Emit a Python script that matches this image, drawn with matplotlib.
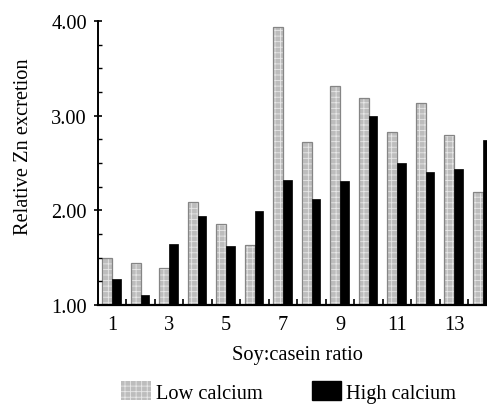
import matplotlib
matplotlib.use("Agg")
import matplotlib.pyplot as plt
import numpy as np
from matplotlib.patches import Patch
from matplotlib.ticker import MultipleLocator, FixedLocator

# soy:casein ratio groups 1..14
groups = np.arange(1, 15)
low_calcium = [1.50, 1.44, 1.39, 2.09, 1.86, 1.63, 3.94, 2.72, 3.31, 3.19, 2.83, 3.13, 2.80, 2.19]
high_calcium = [1.28, 1.11, 1.65, 1.94, 1.62, 1.99, 2.32, 2.12, 2.31, 3.00, 2.50, 2.41, 2.44, 2.74]
tick_labels = ["1", "3", "5", "7", "9", "11", "13"]

plt.rcParams["font.family"] = ["Liberation Serif", "DejaVu Serif"]
plt.rcParams["font.size"] = 14.7
plt.rcParams["hatch.linewidth"] = 0.6

fig = plt.figure(figsize=(4.87, 4.06), dpi=100)
ax = fig.add_axes([0.201, 0.246, 0.80, 0.700])

base = 1.0
low_h = np.array(low_calcium) - base
high_h = np.array(high_calcium) - base

# low calcium: stippled grey bars, then a grey outline on top
ax.bar(groups - 0.35, low_h, width=0.36, bottom=base, align="edge",
       facecolor="#bdbdbd", edgecolor="#e8e8e8", hatch="+++", linewidth=0)
ax.bar(groups - 0.35, low_h, width=0.36, bottom=base, align="edge",
       fill=False, edgecolor="#858585", linewidth=0.9)
# high calcium: solid black
ax.bar(groups + 0.01, high_h, width=0.29, bottom=base, align="edge",
       color="black", edgecolor="black", linewidth=0.5)

ax.set_xlim(0.5, 14.17)
ax.set_ylim(1.0, 4.0)

ax.set_xticks([1, 3, 5, 7, 9, 11, 13])
ax.set_xticklabels(tick_labels)
ax.xaxis.set_minor_locator(FixedLocator(np.arange(1.5, 14, 1.0)))
ax.tick_params(axis="x", which="major", length=0, pad=7)
ax.tick_params(axis="x", which="minor", direction="in", length=4, width=1.2)

ax.set_yticks([1, 2, 3, 4])
ax.set_yticklabels(["1.00", "2.00", "3.00", "4.00"])
ax.yaxis.set_minor_locator(MultipleLocator(0.25))
ax.tick_params(axis="y", which="major", direction="inout", length=6, width=1.2, pad=5)
ax.tick_params(axis="y", which="minor", direction="in", length=3, width=1.0)

for s in ["top", "right"]:
    ax.spines[s].set_visible(False)
ax.spines["left"].set_linewidth(1.4)
ax.spines["bottom"].set_linewidth(1.6)

fig.text(0.049, 1 - 147 / 406, "Relative Zn excretion", rotation=90,
         ha="center", va="center")
fig.text(0.611, 1 - 356 / 406, "Soy:casein ratio", ha="center", va="center")

handles = [
    Patch(facecolor="#bdbdbd", edgecolor="#e8e8e8", hatch="+++", linewidth=0),
    Patch(facecolor="black", edgecolor="black"),
]
fig.legend(handles, ["Low calcium", "High calcium"], loc="center",
           bbox_to_anchor=(0.593, 0.032), ncol=2, frameon=False,
           handlelength=1.45, handleheight=1.0, handletextpad=0.25,
           columnspacing=2.4, borderaxespad=0)

fig.savefig("out.png", dpi=100)
